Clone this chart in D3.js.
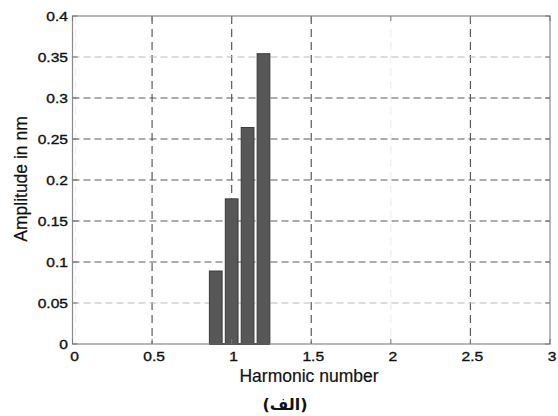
<!DOCTYPE html>
<head>
  <meta charset="utf-8">
  <title>Harmonic amplitude</title>
  <style>
    body { margin: 0; padding: 0; background: #fff; }
    text { font-family: 'Liberation Sans', Arial, sans-serif; fill: #111; }
    .tick-label { font-size: 13px; stroke: #111; stroke-width: 0.35px; }
    .axis-title { font-size: 17.5px; stroke: #111; stroke-width: 0.2px; }
  </style>
</head>
<body>
  <div id="vis"></div>
  <script src="https://cdn.jsdelivr.net/npm/d3@7"></script>
  <script>
    // data
    var harmonics = [0.9, 1.0, 1.1, 1.2];
    var amplitudes = [0.089, 0.177, 0.264, 0.354];
    var xTicks = [0, 0.5, 1, 1.5, 2, 2.5, 3];
    var yTicks = [0, 0.05, 0.1, 0.15, 0.2, 0.25, 0.3, 0.35, 0.4];
    var xTitle = "Harmonic number";
    var yTitle = "Amplitude in nm";
    var caption = "(الف)";

    var width = 558, height = 416,
        plotLeft = 72.5, plotRight = 550, plotTop = 16, plotBottom = 344,
        barWidth = 0.08;

    var svg = d3.select("#vis").append("svg")
      .attr("width", width)
      .attr("height", height);

    var x = d3.scaleLinear().domain([0, 3]).range([plotLeft, plotRight]);
    var y = d3.scaleLinear().domain([0, 0.4]).range([plotBottom, plotTop]);

    // the scan made some grid lines paler than others
    function gridColour(axis, v) {
      if (axis == 'x' && (v == 0 || v == 2)) return '#eeeeee';
      if (axis == 'y' && (v == 0.35 || v == 0.05)) return '#bcbcbc';
      return '#5a5a5a';
    }

    var grid = svg.append("g").attr("class", "grid");
    grid.selectAll("line.gx")
      .data(xTicks.filter(function(d) { return d > 0 && d < 3; }))
      .enter().append("line")
        .attr("x1", function(d) { return x(d); })
        .attr("x2", function(d) { return x(d); })
        .attr("y1", plotTop).attr("y2", plotBottom)
        .attr("stroke", function(d) { return gridColour('x', d); })
        .attr("stroke-width", 1.2)
        .attr("stroke-dasharray", "8,5");
    grid.append("line")
      .attr("x1", x(0) + 3).attr("x2", x(0) + 3)
      .attr("y1", plotTop).attr("y2", plotBottom)
      .attr("stroke", gridColour('x', 0))
      .attr("stroke-width", 1.2)
      .attr("stroke-dasharray", "8,5");
    grid.selectAll("line.gy")
      .data(yTicks.filter(function(d) { return d > 0 && d < 0.4; }))
      .enter().append("line")
        .attr("x1", plotLeft).attr("x2", plotRight)
        .attr("y1", function(d) { return y(d); })
        .attr("y2", function(d) { return y(d); })
        .attr("stroke", function(d) { return gridColour('y', d); })
        .attr("stroke-width", 1.2)
        .attr("stroke-dasharray", "7,4");

    // bars
    svg.append("g").selectAll("rect")
      .data(harmonics)
      .enter().append("rect")
        .attr("x", function(d) { return x(d - barWidth / 2); })
        .attr("width", function(d) { return x(d + barWidth / 2) - x(d - barWidth / 2); })
        .attr("y", function(d, i) { return y(amplitudes[i]); })
        .attr("height", function(d, i) { return y(0) - y(amplitudes[i]); })
        .attr("fill", "#575757")
        .attr("stroke", "#3a3a3a")
        .attr("stroke-width", 1);

    // baseline under the bars
    svg.append("line")
      .attr("x1", x(d3.min(harmonics) - barWidth / 2))
      .attr("x2", x(d3.max(harmonics) + barWidth / 2))
      .attr("y1", y(0)).attr("y2", y(0))
      .attr("stroke", "#111")
      .attr("stroke-width", 2);

    // box
    svg.append("rect")
      .attr("x", plotLeft).attr("y", plotTop)
      .attr("width", plotRight - plotLeft).attr("height", plotBottom - plotTop)
      .attr("fill", "none")
      .attr("stroke", "#8a8a8a")
      .attr("stroke-width", 1.2);

    // inward ticks on all four sides
    var ticks = svg.append("g").attr("stroke", "#777").attr("stroke-width", 1);
    xTicks.forEach(function(d) {
      ticks.append("line").attr("x1", x(d)).attr("x2", x(d)).attr("y1", plotBottom).attr("y2", plotBottom - 5);
      ticks.append("line").attr("x1", x(d)).attr("x2", x(d)).attr("y1", plotTop).attr("y2", plotTop + 5);
    });
    yTicks.forEach(function(d) {
      ticks.append("line").attr("x1", plotLeft).attr("x2", plotLeft + 5).attr("y1", y(d)).attr("y2", y(d));
      ticks.append("line").attr("x1", plotRight).attr("x2", plotRight - 5).attr("y1", y(d)).attr("y2", y(d));
    });

    // tick labels (stretched horizontally like the scan)
    svg.append("g").selectAll("text")
      .data(xTicks)
      .enter().append("text")
        .attr("class", "tick-label")
        .attr("text-anchor", "middle")
        .attr("transform", function(d) { return "translate(" + (x(d) + 2) + "," + 361 + ") scale(1.2,1)"; })
        .text(function(d) { return d; });

    svg.append("g").selectAll("text")
      .data(yTicks)
      .enter().append("text")
        .attr("class", "tick-label")
        .attr("text-anchor", "end")
        .attr("transform", function(d) { return "translate(" + 68 + "," + (y(d) + 5) + ") scale(1.2,1)"; })
        .text(function(d) { return d; });

    // titles
    svg.append("text")
      .attr("class", "axis-title")
      .attr("text-anchor", "middle")
      .attr("x", 309).attr("y", 382)
      .text(xTitle);

    svg.append("text")
      .attr("class", "axis-title")
      .attr("text-anchor", "middle")
      .attr("transform", "translate(27,179) rotate(-90)")
      .text(yTitle);

    svg.append("text")
      .attr("text-anchor", "middle")
      .attr("x", 285).attr("y", 410)
      .style("font-family", "'DejaVu Sans', sans-serif")
      .style("font-weight", "bold")
      .style("font-size", "16px")
      .text(caption);
  </script>
</body>
